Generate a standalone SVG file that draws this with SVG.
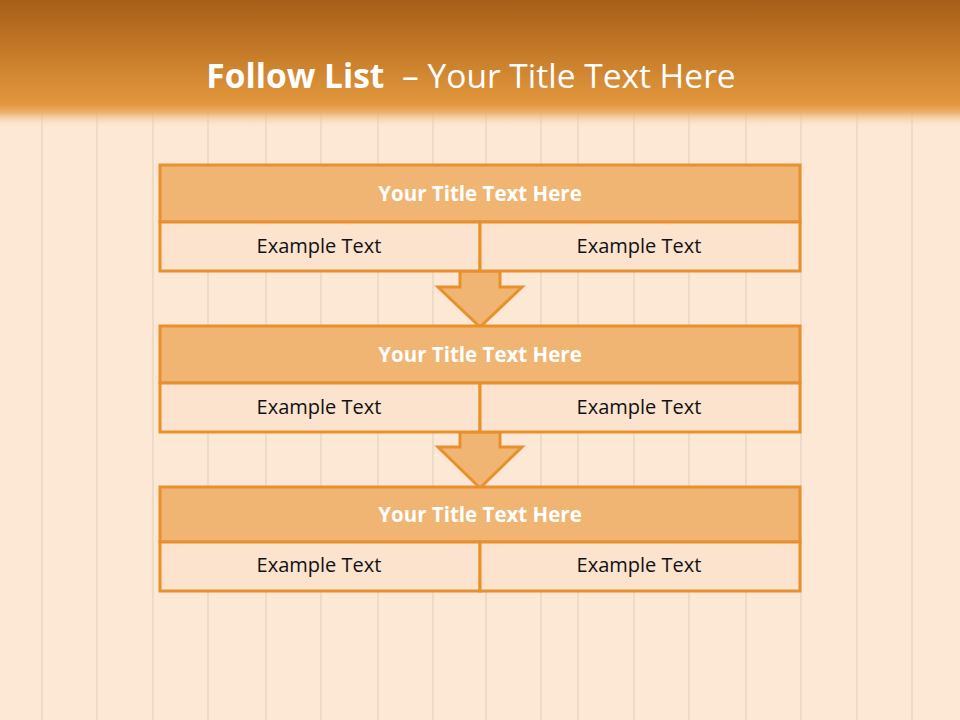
<svg xmlns="http://www.w3.org/2000/svg" width="960" height="720" viewBox="0 0 960 720">
<defs>
<linearGradient id="hdr" x1="0" y1="0" x2="0" y2="1">
<stop offset="0" stop-color="#A65F18"/>
<stop offset="0.4" stop-color="#C57A28"/>
<stop offset="0.82" stop-color="#E3983F"/>
<stop offset="0.88" stop-color="#EAA85E" stop-opacity="0.85"/>
<stop offset="1" stop-color="#FCE8D4" stop-opacity="0"/>
</linearGradient>
<style>
.title{fill:#F0B572;stroke:#E8902E;stroke-width:3}
.cell{fill:#FBE3CE;stroke:#E8902E;stroke-width:3}
.arrow{fill:#F0B572;stroke:#E8902E;stroke-width:3;stroke-linejoin:miter}
.tt{font-family:"Open Sans","Liberation Sans",sans-serif;font-weight:bold;font-size:20.5px;fill:#FFFFFF;text-anchor:middle}
.et{font-family:"Open Sans","Liberation Sans",sans-serif;font-size:20px;fill:#111111;text-anchor:middle}
.plank{stroke:#E9D6C5;stroke-width:1.5}
</style>
</defs>
<rect width="960" height="720" fill="#FCE8D4"/>
<g id="planks">
<line class="plank" x1="42" y1="0" x2="42" y2="720"/>
<line class="plank" x1="97" y1="0" x2="97" y2="720"/>
<line class="plank" x1="153" y1="0" x2="153" y2="720"/>
<line class="plank" x1="208" y1="0" x2="208" y2="720"/>
<line class="plank" x1="266" y1="0" x2="266" y2="720"/>
<line class="plank" x1="321" y1="0" x2="321" y2="720"/>
<line class="plank" x1="378" y1="0" x2="378" y2="720"/>
<line class="plank" x1="433" y1="0" x2="433" y2="720"/>
<line class="plank" x1="486" y1="0" x2="486" y2="720"/>
<line class="plank" x1="541" y1="0" x2="541" y2="720"/>
<line class="plank" x1="578" y1="0" x2="578" y2="720"/>
<line class="plank" x1="634" y1="0" x2="634" y2="720"/>
<line class="plank" x1="689" y1="0" x2="689" y2="720"/>
<line class="plank" x1="746" y1="0" x2="746" y2="720"/>
<line class="plank" x1="801" y1="0" x2="801" y2="720"/>
<line class="plank" x1="857" y1="0" x2="857" y2="720"/>
<line class="plank" x1="912" y1="0" x2="912" y2="720"/>
</g>
<rect id="header" x="0" y="0" width="960" height="128" fill="url(#hdr)"/>
<text x="471" y="88" text-anchor="middle" font-family="Open Sans, Liberation Sans, sans-serif" font-size="33.5" fill="#FFFFFF"><tspan font-weight="bold">Follow List</tspan><tspan dx="9"> – Your Title Text Here</tspan></text>

<g id="connectors">
<path class="arrow" d="M460,271 L500,271 L500,287 L522,287 L480,327 L438,287 L460,287 Z"/>
<path class="arrow" d="M460,432 L500,432 L500,447 L522,447 L480,488 L438,447 L460,447 Z"/>
</g>

<g id="node1">
<rect class="title" x="160" y="165" width="640" height="57"/>
<rect class="cell" x="160" y="222" width="320" height="49"/>
<rect class="cell" x="480" y="222" width="320" height="49"/>
<text class="tt" x="480" y="200.5">Your Title Text Here</text>
<text class="et" x="319" y="253">Example Text</text>
<text class="et" x="639" y="253">Example Text</text>
</g>
<g id="node2">
<rect class="title" x="160" y="326" width="640" height="57"/>
<rect class="cell" x="160" y="383" width="320" height="49"/>
<rect class="cell" x="480" y="383" width="320" height="49"/>
<text class="tt" x="480" y="361.5">Your Title Text Here</text>
<text class="et" x="319" y="414">Example Text</text>
<text class="et" x="639" y="414">Example Text</text>
</g>
<g id="node3">
<rect class="title" x="160" y="487" width="640" height="55"/>
<rect class="cell" x="160" y="542" width="320" height="49"/>
<rect class="cell" x="480" y="542" width="320" height="49"/>
<text class="tt" x="480" y="521.5">Your Title Text Here</text>
<text class="et" x="319" y="572">Example Text</text>
<text class="et" x="639" y="572">Example Text</text>
</g>
</svg>
